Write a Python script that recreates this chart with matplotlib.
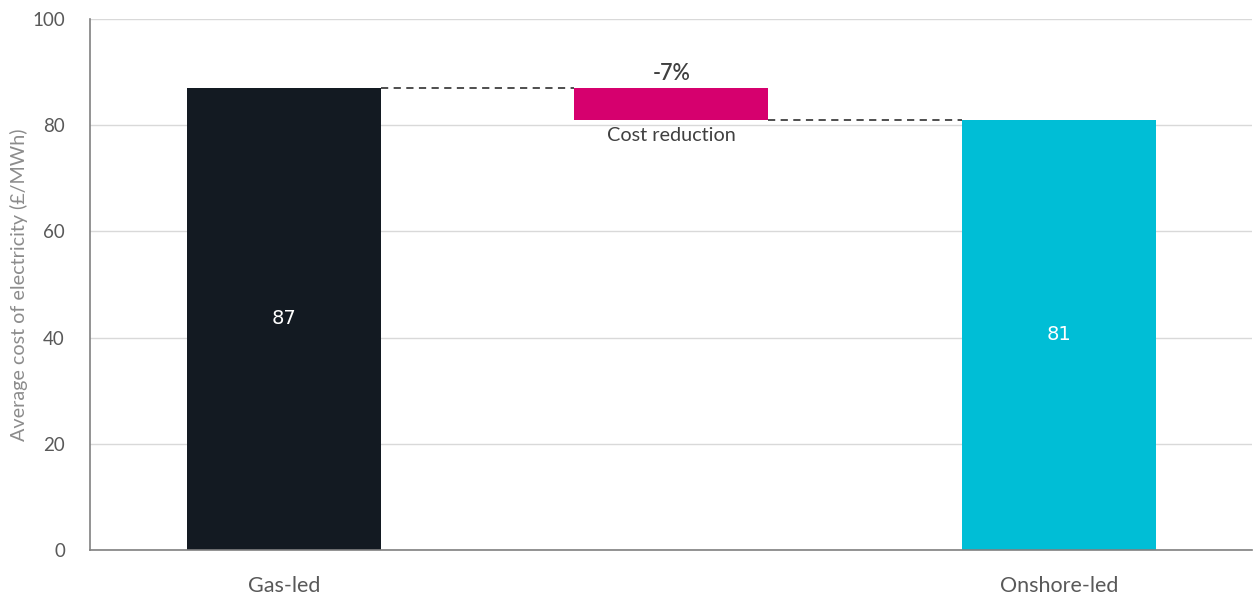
import matplotlib.pyplot as plt
import numpy as np

plt.rcParams['font.family'] = ['Lato', 'DejaVu Sans']

categories = ["Gas-led", "Cost reduction", "Onshore-led"]
gas_cost = 87
onshore_cost = 81
change_label = "-7%"
yticks = [0, 20, 40, 60, 80, 100]

col_gas = "#131a22"
col_cut = "#d6006e"
col_on = "#00bed6"
txt = "#595959"

fig = plt.figure(figsize=(12.55, 5.94), dpi=100)
ax = fig.add_axes([0.0717, 0.0741, 0.9263, 0.894])

x = np.arange(len(categories))
w = 0.5
ax.bar(x[0], gas_cost, width=w, color=col_gas, zorder=3)
ax.bar(x[1], gas_cost - onshore_cost, bottom=onshore_cost, width=w, color=col_cut, zorder=3)
ax.bar(x[2], onshore_cost, width=w, color=col_on, zorder=3)

# connectors
ax.plot([x[0] + w / 2, x[1] - w / 2], [gas_cost, gas_cost], ls=(0, (4, 3)), color="#404040", lw=1.3, zorder=2)
ax.plot([x[1] + w / 2, x[2] - w / 2], [onshore_cost, onshore_cost], ls=(0, (4, 3)), color="#404040", lw=1.3, zorder=2)

# labels
ax.text(x[0], gas_cost / 2, f"{gas_cost}", color="white", ha="center", va="center",
        fontsize=14, family="DejaVu Sans", zorder=4)
ax.text(x[2], onshore_cost / 2, f"{onshore_cost}", color="white", ha="center", va="center",
        fontsize=14, family="DejaVu Sans", zorder=4)
ax.text(x[1], gas_cost + 0.8, change_label, color="#404040", ha="center", va="bottom",
        fontsize=15.5, fontweight="semibold", zorder=4)
ax.text(x[1], onshore_cost - 1.4, categories[1], color="#404040", ha="center", va="top",
        fontsize=14.3, zorder=4)

ax.set_xlim(-0.5, 2.5)
ax.set_ylim(0, 100)
ax.set_yticks(yticks)
ax.set_xticks([x[0], x[2]])
ax.set_xticklabels([categories[0], categories[2]], fontsize=15.5, color=txt)
ax.tick_params(axis="y", labelsize=13.5, colors=txt, length=0, pad=18)
ax.tick_params(axis="x", length=0, pad=19)
ax.grid(axis="y", color="#d9d9d9", lw=1, zorder=0)
ax.set_ylabel("Average cost of electricity (£/MWh)", fontsize=14.2, color="#8c8c8c")
ax.yaxis.set_label_coords(-0.053, 0.5)

for s in ["top", "right"]:
    ax.spines[s].set_visible(False)
for s in ["left", "bottom"]:
    ax.spines[s].set_color("#808080")
    ax.spines[s].set_linewidth(1.2)
    ax.spines[s].set_zorder(5)

fig.savefig("out.png", dpi=100)
